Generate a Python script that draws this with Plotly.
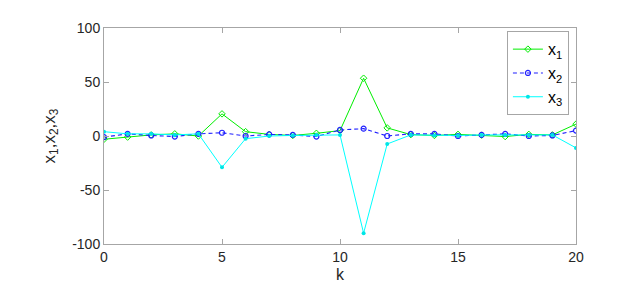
import plotly.graph_objects as go

k = list(range(21))
x1 = [-3, -1, 1, 2, 0, 20.5, 4, 1.5, 0.5, 2.5, 5, 53.5, 7.5, 1.3, 0.5, 1.5, 0.8, -0.5, 1.5, 1, 11]
x2 = [-1, 2, 0.5, -0.5, 2, 3, 0, 1.5, 1, -0.5, 5.6, 6.8, 0, 2, 2, 0, 1, 2, 0, 0.5, 5]
x3 = [4, 2, 2, 1, 2, -29, -2.5, 0, 0.5, 1, 1, -90, -7.4, 1, 0.5, 0.5, 1, 1, 1, 1, -11]

x_ticks = [0, 5, 10, 15, 20]
y_ticks = [-100, -50, 0, 50, 100]

font = "Liberation Sans, Arial, sans-serif"
axcol = "#a6a6a6"

fig = go.Figure()
fig.add_trace(go.Scatter(x=k, y=x1, mode="lines+markers", name="x<sub>1</sub>",
                         line=dict(color="#00ee00", width=1),
                         marker=dict(symbol="diamond-open", size=5, color="#00ee00", line=dict(width=1))))
fig.add_trace(go.Scatter(x=k, y=x2, mode="lines+markers", name="x<sub>2</sub>",
                         line=dict(color="#2020ff", width=1.1, dash="4px,3px"),
                         marker=dict(symbol="circle-open", size=5, color="#2020ff", line=dict(width=1.2))))
fig.add_trace(go.Scatter(x=k, y=x3, mode="lines+markers", name="x<sub>3</sub>",
                         line=dict(color="#00ffff", width=1),
                         marker=dict(symbol="circle", size=4, color="#00e5e5")))

fig.update_layout(
    width=611, height=285,
    margin=dict(l=96, r=43, t=15, b=49),
    paper_bgcolor="white", plot_bgcolor="white",
    font=dict(family=font, size=14, color="#262626"),
    showlegend=True,
    legend=dict(x=0.985, y=0.985, xanchor="right", yanchor="top",
                bgcolor="white", bordercolor=axcol, borderwidth=1,
                font=dict(size=16, color="#000000"),
                tracegroupgap=0, itemwidth=30),
    xaxis=dict(range=[0, 20], tickvals=x_ticks, ticktext=[str(v) for v in x_ticks],
               showgrid=False, zeroline=False, showline=True, linecolor=axcol, linewidth=1,
               mirror="ticks", ticks="inside", ticklen=5, tickcolor=axcol,
               title=dict(text="k", standoff=5, font=dict(size=16))),
    yaxis=dict(range=[-100, 100], tickvals=y_ticks, ticktext=[str(v) for v in y_ticks],
               showgrid=False, zeroline=False, showline=True, linecolor=axcol, linewidth=1,
               mirror="ticks", ticks="inside", ticklen=5, tickcolor=axcol,
               title=dict(text="x<sub>1</sub>,x<sub>2</sub>,x<sub>3</sub>", standoff=12, font=dict(size=17))),
)

fig.write_html("out.html")
